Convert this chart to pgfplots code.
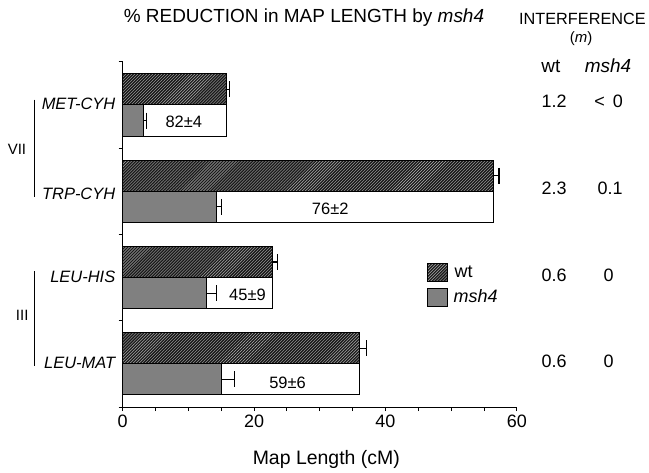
\documentclass[border=0pt]{standalone}
\usepackage{pgfplots}
\pgfplotsset{compat=1.18}
\usepackage{fontspec}
\setmainfont{Liberation Sans}
\usetikzlibrary{patterns}
\newcommand{\fs}[1]{\fontsize{#1}{#1}\selectfont}
\begin{document}
\begin{tikzpicture}
\begin{axis}[
  name=ax,
  scale only axis, width=395pt, height=346pt,
  xmin=0, xmax=60, ymin=-0.5, ymax=3.5,
  axis x line*=bottom, axis y line*=left,
  axis line style={line width=1pt, -},
  xtick={0,20,40,60}, minor x tick num=3,
  ytick={-0.5,0.5,1.5,2.5,3.5}, yticklabels={},
  tick align=outside, major tick length=4pt, minor tick length=4pt,
  tick style={black, line width=0.8pt},
  xticklabel style={font=\fs{18}},
  /pgf/number format/assume math mode=true,
  clip=false,
  bar width=0.36,
  legend image code/.code={\draw[#1, line width=0.8pt] (0pt,-9pt) rectangle (20pt,9pt);},
  legend style={at={(axis cs:46.3,1.17)}, anchor=north west, draw=none, fill=none,
    font=\fs{18}, row sep=6pt, inner sep=0pt, cells={anchor=west}},
]
% wt (hatched)
\addplot[xbar, bar shift=0pt, draw=black, line width=1pt, fill=black!90,
  postaction={pattern=north east lines, pattern color=white!70!black}, forget plot,
  error bars/.cd, x dir=plus, x explicit, error mark=|,
  error bar style={line width=1.2pt, black},
  error mark options={mark size=8pt, line width=1.2pt, black}]
  coordinates {(15.8,3.18) +- (0.4,0) (56.4,2.18) +- (0.9,0) (22.8,1.18) +- (0.8,0) (36.0,0.18) +- (1.1,0)};
% white box (wt length on the msh4 row)
\addplot[xbar, bar shift=0pt, draw=black, line width=1pt, fill=white, forget plot]
  coordinates {(15.8,2.82) (56.4,1.82) (22.8,0.82) (36.0,-0.18)};
% msh4 (gray)
\addplot[xbar, bar shift=0pt, draw=black, line width=1pt, fill=black!50, forget plot,
  error bars/.cd, x dir=plus, x explicit, error mark=|,
  error bar style={line width=1.2pt, black},
  error mark options={mark size=8pt, line width=1.2pt, black}]
  coordinates {(3.2,2.82) +- (0.4,0) (14.3,1.82) +- (0.7,0) (12.8,0.82) +- (1.5,0) (15.0,-0.18) +- (2.0,0)};
\addlegendimage{draw=black, fill=black!90, postaction={pattern=north east lines, pattern color=white!70!black}}
\addlegendentry{\hspace{5pt}wt}
\addlegendimage{draw=black, fill=black!50}
\addlegendentry{\hspace{4pt}\itshape msh4}

% percent labels
\node[anchor=base, font=\fs{16.5}] at (axis cs:9.3,2.737) {82±4};
\node[anchor=base, font=\fs{16.5}] at (axis cs:31.6,1.731) {76±2};
\node[anchor=base, font=\fs{16.5}] at (axis cs:19.0,0.737) {45±9};
\node[anchor=base, font=\fs{16.5}] at (axis cs:25.1,-0.29) {59±6};

% category labels
\node[anchor=base east, font=\fs{16.5}\itshape] at (axis cs:-0.6,2.945) {MET-CYH};
\node[anchor=base east, font=\fs{16.5}\itshape] at (axis cs:-0.6,1.905) {TRP-CYH};
\node[anchor=base east, font=\fs{16.5}\itshape] at (axis cs:-0.6,0.945) {LEU-HIS};
\node[anchor=base east, font=\fs{16.5}\itshape] at (axis cs:-0.6,-0.049) {LEU-MAT};

% chromosome groups
\draw[line width=1.2pt] (axis cs:-13.4,3.061) -- (axis cs:-13.4,1.939);
\draw[line width=1.2pt] (axis cs:-13.4,1.072) -- (axis cs:-13.4,-0.026);
\node[font=\fs{15}] at (axis cs:-16.1,2.483) {VII};
\node[font=\fs{15}] at (axis cs:-15.3,0.564) {III};

% titles
\node[anchor=base, font=\fs{19}] at (axis cs:27.6,3.951) {\% REDUCTION in MAP LENGTH by \textit{msh4}};
\node[anchor=base, font=\fs{16.3}] at (axis cs:70.0,3.928) {INTERFERENCE};
\node[anchor=base, font=\fs{15}] at (axis cs:69.8,3.72) {(\textit{m})};
\node[anchor=base, font=\fs{19}] at (axis cs:65.2,3.373) {wt};
\node[anchor=base, font=\fs{19}] at (axis cs:73.9,3.373) {\textit{msh4}};

% interference values
\node[anchor=base, font=\fs{18}] at (axis cs:65.7,2.968) {1.2};
\node[anchor=base, font=\fs{18}] at (axis cs:74.0,2.968) {<\hspace{8pt}0};
\node[anchor=base, font=\fs{18}] at (axis cs:65.7,1.962) {2.3};
\node[anchor=base, font=\fs{18}] at (axis cs:74.2,1.962) {0.1};
\node[anchor=base, font=\fs{18}] at (axis cs:65.7,0.957) {0.6};
\node[anchor=base, font=\fs{18}] at (axis cs:74.0,0.957) {0};
\node[anchor=base, font=\fs{18}] at (axis cs:65.7,-0.038) {0.6};
\node[anchor=base, font=\fs{18}] at (axis cs:74.0,-0.038) {0};

% x label
\node[anchor=base, font=\fs{19.5}] at (axis cs:31.0,-1.171) {Map Length (cM)};
\end{axis}
\path[use as bounding box] ([shift={(-123pt,-63pt)}]ax.south west) rectangle ([shift={(131pt,62pt)}]ax.north east);
\end{tikzpicture}
\end{document}
